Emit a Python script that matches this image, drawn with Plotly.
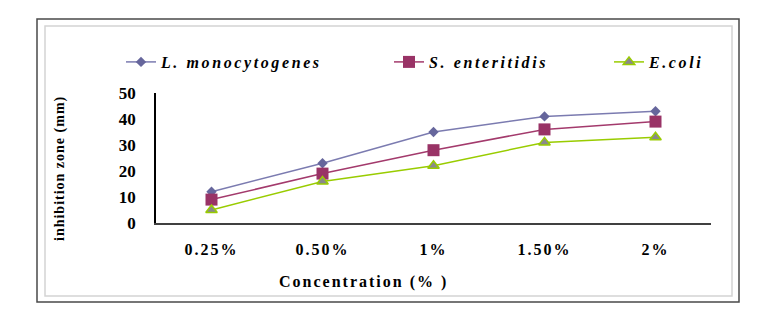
import plotly.graph_objects as go

categories = ["0.25%", "0.50%", "1%", "1.50%", "2%"]
listeria = [12, 23, 35, 41, 43]
salmonella = [9, 19, 28, 36, 39]
ecoli = [5, 16, 22, 31, 33]
y_ticks = [0, 10, 20, 30, 40, 50]

FONT = "Liberation Serif"
W, H = 764, 311
ML, MR, MT, MB = 156, 53, 93, 88
PW = W - ML - MR
PH = H - MT - MB


def px_x(px):
    return (px - ML) / PW


def px_y(py):
    return 1 - (py - MT) / PH


fig = go.Figure()
fig.add_trace(go.Scatter(
    x=categories, y=listeria, name="L. monocytogenes", mode="lines+markers",
    line=dict(color="#7b7bb0", width=1.5),
    marker=dict(symbol="diamond", size=8, color="#66669c", line=dict(width=0)),
    legend="legend"))
fig.add_trace(go.Scatter(
    x=categories, y=salmonella, name="S. enteritidis", mode="lines+markers",
    line=dict(color="#a33a6c", width=1.5),
    marker=dict(symbol="square", size=12, color="#993366", line=dict(width=0)),
    legend="legend2"))
fig.add_trace(go.Scatter(
    x=categories, y=ecoli, name="E.coli", mode="lines+markers",
    line=dict(color="#99cc00", width=1.5),
    marker=dict(symbol="triangle-up", size=10, color="#8a8a8a",
                line=dict(width=1.5, color="#99cc00")),
    legend="legend3"))

leg_font = dict(family=FONT, size=16, color="#000", weight="bold", style="italic")
common_leg = dict(orientation="h", yanchor="middle", xanchor="left",
                  bgcolor="rgba(0,0,0,0)", font=leg_font, y=px_y(62))

fig.update_layout(
    width=W, height=H,
    margin=dict(l=ML, r=MR, t=MT, b=MB),
    paper_bgcolor="white", plot_bgcolor="white",
    showlegend=True,
    legend=dict(x=px_x(121), **common_leg),
    legend2=dict(x=px_x(389), **common_leg),
    legend3=dict(x=px_x(609), **common_leg),
    xaxis=dict(type="category", range=[-0.5, 4.5], showgrid=False, zeroline=False,
               showline=True, linecolor="#404040", linewidth=2, ticks="",
               tickfont=dict(family=FONT, size=16, color="#000", weight="bold"),
               ticklabelstandoff=11),
    yaxis=dict(range=[0, 50], tickvals=y_ticks, showgrid=False, zeroline=False,
               showline=True, linecolor="#000", linewidth=1.5, ticks="",
               tickfont=dict(family=FONT, size=17, color="#000", weight="bold"),
               ticklabelstandoff=15),
    shapes=[
        dict(type="rect", xref="paper", yref="paper",
             x0=px_x(37), x1=px_x(739), y0=px_y(302), y1=px_y(19),
             line=dict(color="#4a4a4a", width=1.5), layer="below"),
        dict(type="rect", xref="paper", yref="paper",
             x0=px_x(45), x1=px_x(732), y0=px_y(296), y1=px_y(26),
             line=dict(color="#d4d4d4", width=1.5), layer="below"),
    ],
    annotations=[
        dict(text="Concentration (% )", xref="paper", yref="paper",
             x=px_x(363), y=px_y(282), showarrow=False,
             xanchor="center", yanchor="middle",
             font=dict(family=FONT, size=16, color="#000", weight="bold")),
        dict(text="inhibition zone (mm)", xref="paper", yref="paper",
             x=px_x(60), y=px_y(168), showarrow=False, textangle=-90,
             xanchor="center", yanchor="middle",
             font=dict(family=FONT, size=14, color="#000", weight="bold")),
    ],
)

post = """
var gd = document.getElementById('{plot_id}');
document.documentElement.style.margin = '0';
document.body.style.margin = '0';
document.body.style.padding = '0';
var legNames = ['L. monocytogenes', 'S. enteritidis', 'E.coli'];
var tickNames = ['0.25%', '0.50%', '1%', '1.50%', '2%'];
function fix(){
  gd.querySelectorAll('text').forEach(function(t){
    var s = t.textContent;
    if (legNames.indexOf(s) >= 0) { t.style.letterSpacing = '2.6px'; }
    else if (tickNames.indexOf(s) >= 0) { t.style.letterSpacing = '2px'; }
    else if (s.indexOf('Concentration') === 0) { t.style.letterSpacing = '2px'; }
    else if (s.indexOf('inhibition') === 0) { t.style.letterSpacing = '1px'; }
  });
  gd.querySelectorAll('[clip-path]').forEach(function(el){
    var c = el.getAttribute('clip-path') || '';
    if (c.indexOf('legend') >= 0) { el.removeAttribute('clip-path'); }
  });
}
fix();
gd.on('plotly_afterplot', fix);
setTimeout(fix, 50);
setTimeout(fix, 300);
"""

fig.write_html("out.html", post_script=post, config={"displayModeBar": False})
